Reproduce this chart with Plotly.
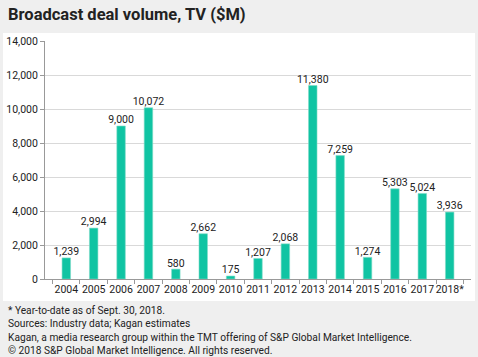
import plotly.graph_objects as go

years = ["2004","2005","2006","2007","2008","2009","2010","2011","2012","2013","2014","2015","2016","2017","2018*"]
values = [1239, 2994, 9000, 10072, 580, 2662, 175, 1207, 2068, 11380, 7259, 1274, 5303, 5024, 3936]
labels = [f"{v:,}" for v in values]
notes = [
    "* Year-to-date as of Sept. 30, 2018.",
    "Sources: Industry data; Kagan estimates",
    "Kagan, a media research group within the TMT offering of S&P Global Market Intelligence.",
    "© 2018 S&P Global Market Intelligence. All rights reserved.",
]

W, H = 478, 357
L, R, T, B = 45, 7, 41, 78
pw, ph = W - L - R, H - T - B

def px(x):
    return (x - L) / pw
def py(y):
    return (H - B - y) / ph

fig = go.Figure()
fig.add_trace(go.Bar(
    x=years, y=values,
    marker=dict(color="#10c4a3", line=dict(color="#7fdcc8", width=0.6)),
    hoverinfo="x+y",
))
fig.add_trace(go.Scatter(
    x=years, y=values, text=labels, mode="text", textposition="top center",
    textfont=dict(size=10.5, color="#222222"), cliponaxis=False, hoverinfo="skip",
))
fig.add_shape(type="rect", xref="paper", yref="paper",
              x0=px(3), x1=px(475), y0=py(301), y1=py(33),
              fillcolor="white", line=dict(width=0), layer="below")

annotations = [
    dict(text="<b>Broadcast deal volume, TV ($M)</b>", xref="paper", yref="paper",
         x=px(6), y=py(15), xanchor="left", yanchor="middle", showarrow=False,
         font=dict(size=16.5, color="#222222")),
    dict(text="<br>".join(notes), xref="paper", yref="paper", x=px(6), y=py(302.5),
         xanchor="left", yanchor="top", showarrow=False, align="left",
         font=dict(size=10.2, color="#222222")),
]

fig.update_layout(
    width=W, height=H,
    margin=dict(l=L, r=R, t=T, b=B, autoexpand=False),
    paper_bgcolor="#efefef", plot_bgcolor="white",
    font=dict(family="Roboto, Arial, sans-serif", color="#222222"),
    bargap=0.69, showlegend=False,
    annotations=annotations,
)
fig.update_yaxes(range=[0, 14000], tickvals=list(range(0, 14001, 2000)),
                 tickformat=",", showgrid=True, gridcolor="#d9d9d9", gridwidth=1,
                 showline=True, linecolor="#999999", ticks="outside", ticklen=4,
                 tickcolor="#999999", tickfont=dict(size=10.5, color="#222222"),
                 zeroline=False, automargin=False)
fig.update_xaxes(showline=True, linecolor="#999999", ticks="outside", ticklen=4,
                 tickcolor="#999999", tickson="boundaries", tickangle=0,
                 tickfont=dict(size=10.5, color="#222222"), automargin=False)
fig.write_html("out.html", config={"displayModeBar": False},
               post_script="document.body.style.margin='0';document.body.style.overflow='hidden';")
